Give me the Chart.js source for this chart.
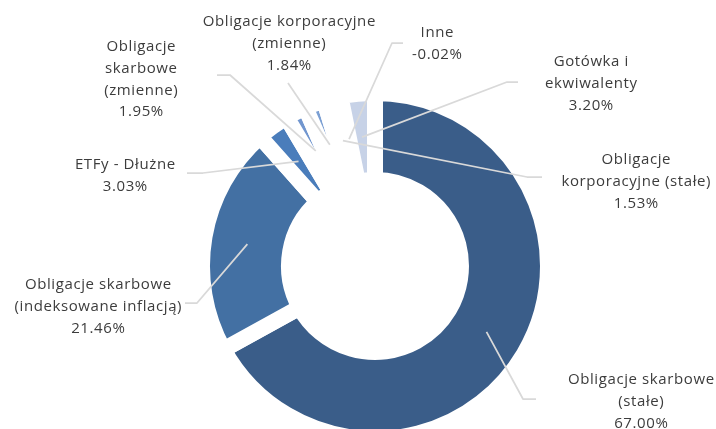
<!DOCTYPE html>
<html><head><meta charset="utf-8">
<script src="https://cdn.jsdelivr.net/npm/chart.js@4/dist/chart.umd.min.js"></script>
<style>html,body{margin:0;padding:0;background:#fff;}canvas{display:block}</style>
</head><body>
<canvas id="c" width="716" height="429"></canvas>
<script>
// ---- data ----
const categories = [
  'Obligacje skarbowe (stałe)',
  'Obligacje skarbowe (indeksowane inflacją)',
  'ETFy - Dłużne',
  'Obligacje skarbowe (zmienne)',
  'Obligacje korporacyjne (zmienne)',
  'Obligacje korporacyjne (stałe)',
  'Inne',
  'Gotówka i ekwiwalenty'
];
const values = [67.00, 21.46, 3.03, 1.95, 1.84, 1.53, -0.02, 3.20];
const labelText = [
  ['Obligacje skarbowe', '(stałe)'],
  ['Obligacje skarbowe', '(indeksowane inflacją)'],
  ['ETFy - Dłużne'],
  ['Obligacje', 'skarbowe', '(zmienne)'],
  ['Obligacje korporacyjne', '(zmienne)'],
  ['Obligacje', 'korporacyjne (stałe)'],
  ['Inne'],
  ['Gotówka i', 'ekwiwalenty']
];

// ---- styles / layout ----
const colors = ['#3A5D89', '#4370A3', '#4A7DBB', '#7196CF', '#7B9FD3', '#A0B8DE', '#B4C6E4', '#C7D2E7'];
const labelLayout = [
  { text: [641, 380], elbow: [523, 399], end: [536, 399] },
  { text: [98, 285],  elbow: [197, 303], end: [185, 303] },
  { text: [125, 165], elbow: [203, 173], end: [187, 173] },
  { text: [141, 47],  elbow: [230, 75],  end: [217, 75] },
  { text: [289, 22],  elbow: [288, 83],  end: [288, 83] },
  { text: [636, 160], elbow: [527, 177], end: [542, 177] },
  { text: [437, 33],  elbow: [392, 43],  end: [403, 43] },
  { text: [591, 62],  elbow: [507, 82],  end: [518, 82] }
];
const LINE_H = 21.7;

const leaderPlugin = {
  id: 'leaders',
  afterDatasetsDraw(chart) {
    const ctx = chart.ctx;
    const meta = chart.getDatasetMeta(0);
    ctx.save();
    ctx.strokeStyle = '#D9D9D9';
    ctx.lineWidth = 1.75;
    ctx.lineJoin = 'round';
    meta.data.forEach((arc, i) => {
      const L = labelLayout[i];
      const p = arc.tooltipPosition(true);
      ctx.beginPath();
      ctx.moveTo(p.x, p.y);
      ctx.lineTo(L.elbow[0], L.elbow[1]);
      ctx.lineTo(L.end[0], L.end[1]);
      ctx.stroke();
    });
    ctx.fillStyle = '#3C3C3C';
    ctx.font = '15px "Open Sans"';
    ctx.letterSpacing = '0.6px';
    ctx.textAlign = 'center';
    ctx.textBaseline = 'middle';
    values.forEach((v, i) => {
      const L = labelLayout[i];
      const lines = labelText[i].concat([v.toFixed(2) + '%']);
      lines.forEach((t, k) => {
        ctx.fillText(t, L.text[0] + 0.3, L.text[1] + k * LINE_H);
      });
    });
    ctx.restore();
  }
};

new Chart(document.getElementById('c'), {
  type: 'doughnut',
  data: {
    labels: categories,
    datasets: [{
      data: values,
      backgroundColor: colors,
      borderColor: '#FFFFFF',
      borderWidth: 16,
      clip: false
    }]
  },
  options: {
    responsive: false,
    animation: false,
    radius: 173,
    cutout: '49.7%',
    layout: { padding: { left: 34, right: 0, top: 103, bottom: 0 } },
    plugins: { legend: { display: false }, tooltip: { enabled: false } }
  },
  plugins: [leaderPlugin]
});
</script>
</body></html>
